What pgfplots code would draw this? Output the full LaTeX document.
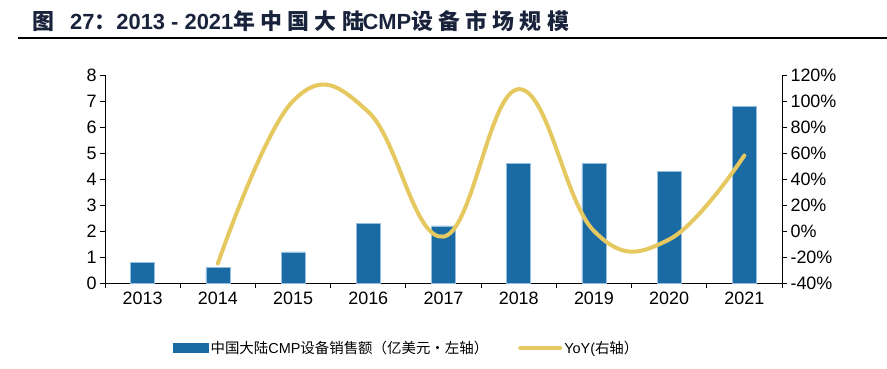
\documentclass[border=0pt]{standalone}
\usepackage{fontspec}
\setmainfont{Liberation Sans}
\newfontfamily\cjk{Noto Sans CJK SC}
\newfontfamily\cjkt{Noto Sans CJK SC}[LetterSpace=24]
\usepackage{pgfplots}
\pgfplotsset{compat=1.18}
\definecolor{barblue}{RGB}{26,106,164}
\definecolor{baredge}{RGB}{150,190,225}
\definecolor{lineyel}{RGB}{229,200,96}
\definecolor{titlecol}{RGB}{25,35,60}
\begin{document}
\begin{tikzpicture}[x=1bp,y=1bp]
\path[use as bounding box] (0,0) rectangle (887,368);
\node[anchor=base west, inner sep=0, text=titlecol, font=\fontsize{22}{24}\selectfont\bfseries] at (32,339)
  {{\cjk\fontsize{22}{24}\selectfont 图}\hspace{16bp}27{\cjk\fontsize{22}{24}\selectfont ：}2013 - 2021{\cjkt\fontsize{22}{24}\selectfont 年中国大陆}\hspace{-1.5bp}CMP{\cjkt\fontsize{22}{24}\selectfont 设备市场规模}};
\draw[line width=1.8bp] (18,330) -- (887,330);
\begin{axis}[
  at={(105bp,85bp)}, anchor=south west,
  scale only axis, width=677bp, height=208bp,
  xmin=-0.5, xmax=8.5, ymin=0, ymax=8,
  axis y line*=left, axis x line*=bottom,
  axis line style={line width=0.9bp, -},
  xtick={0,...,8},
  xticklabels={2013,2014,2015,2016,2017,2018,2019,2020,2021},
  major x tick style={draw=none},
  minor xtick={-0.5,0.5,...,8.5},
  minor tick length=5bp,
  ytick={0,...,8},
  major tick length=5bp,
  tick align=outside,
  tick style={line width=0.9bp, black},
  tick label style={font=\fontsize{18}{20}\selectfont},
  /pgf/number format/assume math mode=true,
  ybar, bar width=24bp,
]
\addplot[fill=barblue, draw=baredge, line width=0.5bp] coordinates {
(0,0.8) (1,0.6) (2,1.2) (3,2.3) (4,2.2) (5,4.6) (6,4.6) (7,4.3) (8,6.8)};
\end{axis}
\begin{axis}[
  at={(105bp,85bp)}, anchor=south west,
  scale only axis, width=677bp, height=208bp,
  xmin=-0.5, xmax=8.5, ymin=-40, ymax=120,
  axis y line*=right, axis x line=none,
  axis line style={line width=0.9bp, -},
  ytick={-40,-20,...,120},
  yticklabel={\pgfmathprintnumber{\tick}\%},
  major tick length=5bp,
  tick align=outside,
  tick style={line width=0.9bp, black},
  tick label style={font=\fontsize{18}{20}\selectfont},
  /pgf/number format/assume math mode=true,
  legend style={at={(0.096,-0.3125)}, anchor=west, draw=none, fill=none,
    font=\fontsize{14.5}{16}\selectfont, legend columns=2,
    /tikz/every even column/.append style={column sep=28bp},
    nodes={inner sep=2bp}},
]
\addlegendimage{legend image code/.code={\fill[barblue] (0bp,-4.5bp) rectangle (35bp,4.5bp);}}
\addlegendentry{{\cjk 中国大陆}CMP{\cjk 设备销售额（亿美元·左轴）}}
\addplot[lineyel, line width=4bp, smooth, tension=0.7, line cap=round,
  legend image code/.code={\draw[lineyel, line width=4bp] (0bp,0bp) -- (40bp,0bp);}]
  coordinates {(1,-25) (2,100) (3,91.7) (4,-4.3) (5,109.1) (6,0) (7,-6.5) (8,58.1)};
\addlegendentry{YoY({\cjk 右轴}{\cjk ）}}
\end{axis}
\end{tikzpicture}
\end{document}
